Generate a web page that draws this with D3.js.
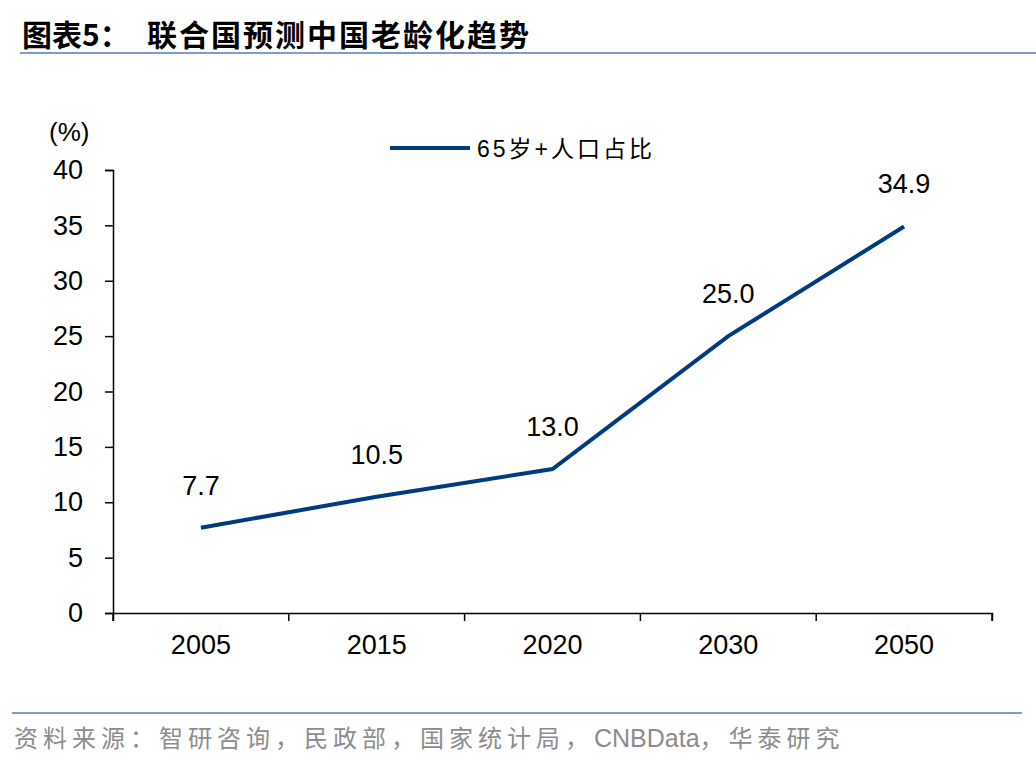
<!DOCTYPE html>
<html>
<meta charset="UTF-8" />
<script src="https://cdn.jsdelivr.net/npm/d3@7"></script>
<style>
*{margin:0; padding:0;}
body{background:#fff;}
text{font-family:"Liberation Sans", Arial, sans-serif;}
</style>
<body>
<div id="chart"></div>
<script>
// data
var years = ["2005", "2015", "2020", "2030", "2050"];
var share65 = [7.7, 10.5, 13.0, 25.0, 34.9];
var yTicks = [0, 5, 10, 15, 20, 25, 30, 35, 40];
var seriesName = "65岁+人口占比";

var W = 1036, H = 760;
var svg = d3.select("#chart").append("svg").attr("width", W).attr("height", H);

// title + rules
var title = svg.append("text").attr("x", 22).attr("y", 46)
	.style("font-family", "'Noto Sans CJK SC', sans-serif")
	.style("font-weight", "bold").style("font-size", "30px");
title.append("tspan").text("图表5：");
title.append("tspan").attr("x", 147).style("letter-spacing", "2px").text("联合国预测中国老龄化趋势");
svg.append("line").attr("x1", 20).attr("x2", W).attr("y1", 53).attr("y2", 53)
	.style("stroke", "#7f9cc4").style("stroke-width", 2);
svg.append("line").attr("x1", 12).attr("x2", 1022).attr("y1", 713).attr("y2", 713)
	.style("stroke", "#7f9cc4").style("stroke-width", 2);
var foot = svg.append("text").attr("x", 14).attr("y", 747)
	.style("font-family", "'Noto Sans CJK SC', sans-serif")
	.style("font-size", "24px").style("fill", "#8c8c8c");
foot.append("tspan").style("letter-spacing", "5px").text("资料来源：智研咨询，民政部，国家统计局，");
foot.append("tspan").style("font-family", "'Liberation Sans', Arial, sans-serif").style("font-size", "25px").text("CNBData");
foot.append("tspan").style("letter-spacing", "5px").text("，华泰研究");

// scales
var x = d3.scaleBand().domain(years).range([113, 992]);
var y = d3.scaleLinear().domain([0, 40]).range([613, 170]);

var yAxis = svg.append("g").attr("transform", "translate(113,0)")
	.call(d3.axisLeft(y).tickValues(yTicks).tickSize(8).tickPadding(22));
var xAxis = svg.append("g").attr("transform", "translate(0,613)")
	.call(d3.axisBottom(x).tickSize(8).tickPadding(14));
// band scale ticks sit at centres; move them to band edges
xAxis.selectAll(".tick line").remove();
x.domain().concat(["end"]).forEach(function(d, i) {
	var xx = 113 + i * x.bandwidth();
	xAxis.append("line").attr("x1", xx).attr("x2", xx).attr("y1", 0).attr("y2", 8)
		.style("stroke", "#000").style("stroke-width", 1.5);
});
[yAxis, xAxis].forEach(function(a) {
	a.select(".domain").style("stroke", "#000").style("stroke-width", 1.5);
	a.selectAll(".tick line").style("stroke", "#000").style("stroke-width", 1.5);
	a.selectAll("text").style("font-family", "'Liberation Sans', Arial, sans-serif")
		.style("font-size", "27px").style("fill", "#000");
});

svg.append("text").attr("x", 49).attr("y", 141)
	.style("font-size", "26px").text("(%)");

// line
var line = d3.line()
	.x(function(d, i) { return x(years[i]) + x.bandwidth() / 2; })
	.y(function(d) { return y(d); });
svg.append("path").datum(share65).attr("d", line)
	.style("fill", "none").style("stroke", "#003b7e").style("stroke-width", 4);

svg.selectAll(".lbl").data(share65).enter().append("text")
	.attr("x", function(d, i) { return x(years[i]) + x.bandwidth() / 2; })
	.attr("y", function(d) { return y(d) - 33; })
	.attr("text-anchor", "middle")
	.style("font-size", "27px")
	.text(function(d) { return d.toFixed(1); });

// legend
svg.append("line").attr("x1", 390).attr("x2", 470).attr("y1", 148).attr("y2", 148)
	.style("stroke", "#003b7e").style("stroke-width", 4);
svg.append("text").attr("x", 477).attr("y", 157)
	.style("font-family", "'Liberation Sans', 'Noto Sans CJK SC', sans-serif")
	.style("font-size", "23px").style("letter-spacing", "3px")
	.text(seriesName);
</script>
</body>
</html>
